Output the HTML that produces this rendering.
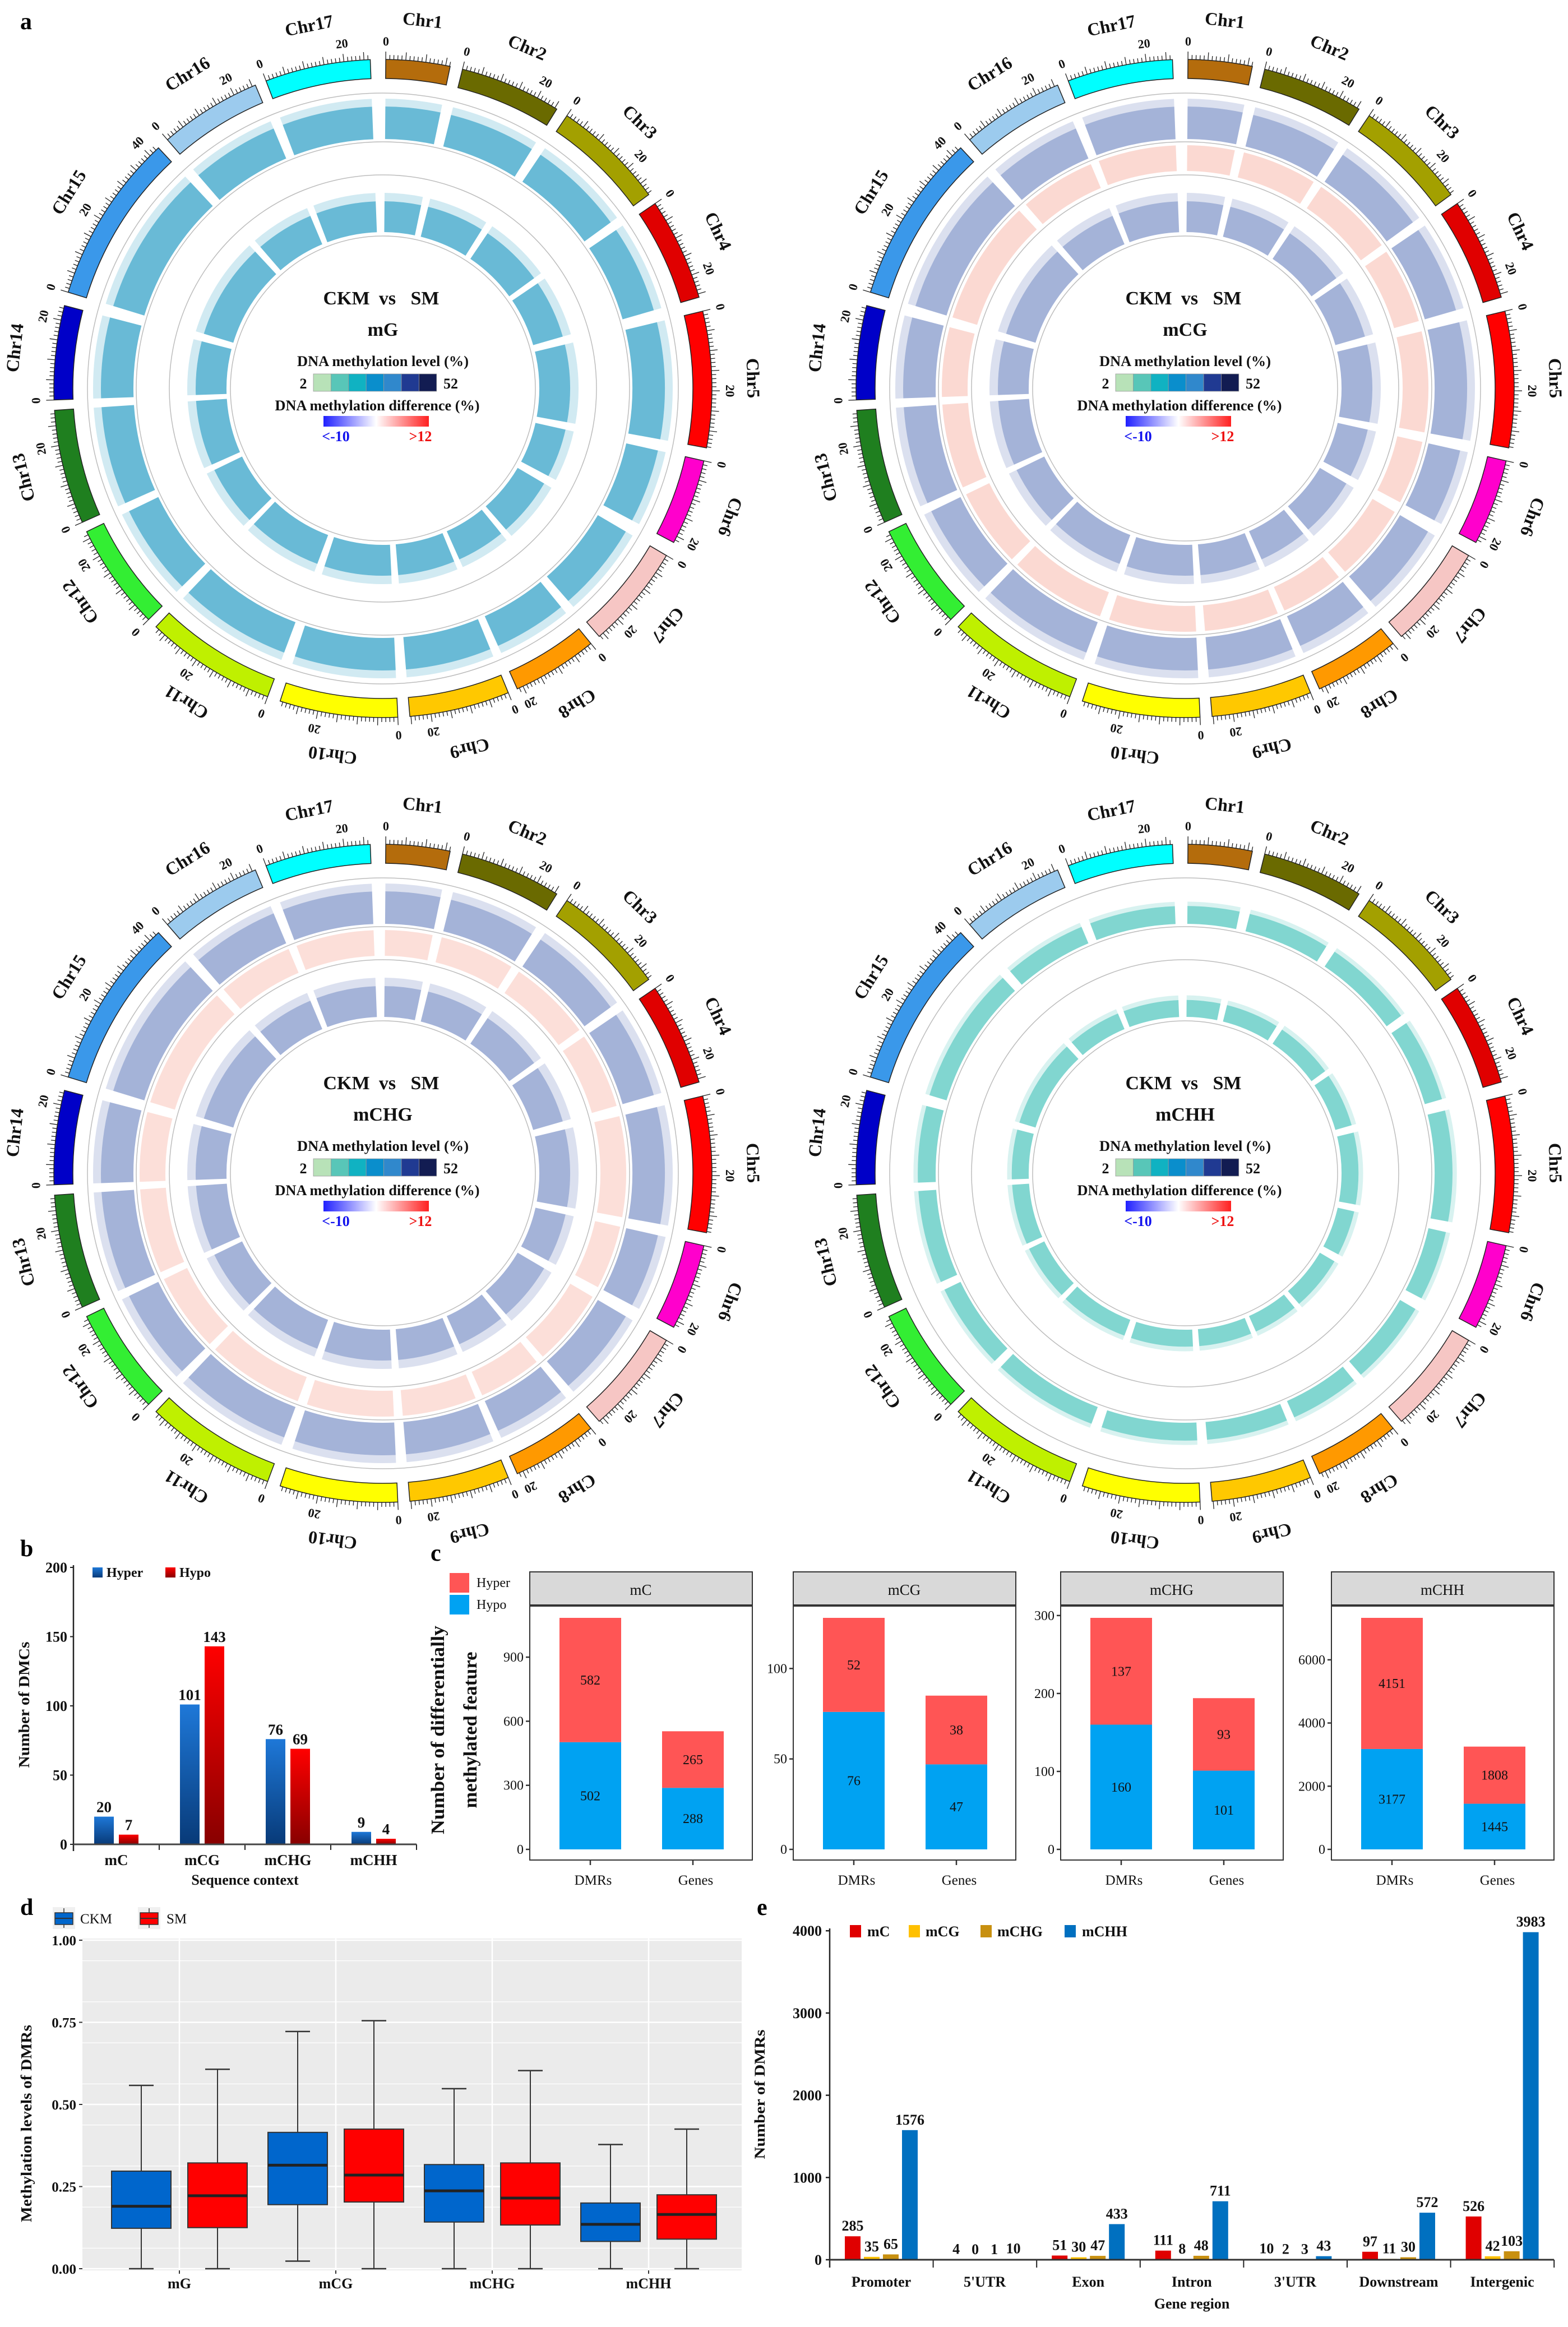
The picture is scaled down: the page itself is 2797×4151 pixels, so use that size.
<!DOCTYPE html>
<html><head><meta charset="utf-8"><title>DNA methylation figure</title>
<style>
html,body{margin:0;padding:0;background:#fff;}
svg{display:block;}
text{font-family:"Liberation Serif","DejaVu Serif",serif;}
</style></head>
<body>
<svg id="fig" xmlns="http://www.w3.org/2000/svg" width="2797" height="4151" viewBox="0 0 2797 4151">
<defs>
<linearGradient id="gBlue" x1="0" y1="0" x2="0" y2="1"><stop offset="0" stop-color="#1e78d8"/><stop offset="1" stop-color="#083a78"/></linearGradient>
<linearGradient id="gRed" x1="0" y1="0" x2="0" y2="1"><stop offset="0" stop-color="#ff0000"/><stop offset="1" stop-color="#880000"/></linearGradient>
<linearGradient id="gDiff" x1="0" y1="0" x2="1" y2="0"><stop offset="0" stop-color="#2020ff"/><stop offset="0.5" stop-color="#ffffff"/><stop offset="1" stop-color="#ff2020"/></linearGradient>
</defs>
<text x="36" y="52" font-size="42" font-weight="bold">a</text>
<text x="36" y="2776" font-size="42" font-weight="bold">b</text>
<text x="768" y="2784" font-size="42" font-weight="bold">c</text>
<text x="36" y="3416" font-size="42" font-weight="bold">d</text>
<text x="1350" y="3416" font-size="42" font-weight="bold">e</text>
</svg>
<script>
const NS='http://www.w3.org/2000/svg';
const svg=document.getElementById('fig');
function mk(tag,attrs,name,parent){
  const el=document.createElementNS(NS,tag);
  for(const k in attrs) el.setAttribute(k,attrs[k]);
  
  
  (parent||svg).appendChild(el);
  return el;
}
function txt(x,y,s,size,name,opts){
  opts=opts||{};
  const el=mk('text',{x:x,y:y,'font-size':size,'font-weight':opts.w||'bold','text-anchor':opts.a||'middle',fill:opts.fill||'#111'},name,opts.parent);
  if(opts.rot!==undefined) el.setAttribute('transform','rotate('+opts.rot+' '+(opts.rx!==undefined?opts.rx:x)+' '+(opts.ry!==undefined?opts.ry:y)+')');
  if(opts.len) {el.setAttribute('textLength',opts.len);el.setAttribute('lengthAdjust','spacingAndGlyphs');}
  el.textContent=s;
  return el;
}

/* ================= Panel a : circos ================= */
const chrNames=['Chr1','Chr2','Chr3','Chr4','Chr5','Chr6','Chr7','Chr8','Chr9','Chr10','Chr11','Chr12','Chr13','Chr14','Chr15','Chr16','Chr17'];
const chrStart=[0.5,14,34,55.8,76.4,102.7,120.5,140.8,157.6,177.4,200.5,225.4,246,268,287,319.1,339.2];
const chrEnd=[11.8,31.9,53.9,73.9,100.4,117.9,138.9,155.9,175.3,198.2,223.6,244.2,266.2,284.6,317,337.2,357.8];
const chrColors=['#b46c0c','#6a6a00','#a3a000','#e00000','#ff0000','#ff00cc','#f6c6c4','#ff9900','#ffc800','#ffff00','#bff000','#33ee33','#1f7f1f','#0000c8','#3a98ea','#9ccbee','#00ffff'];
const contexts=['mG','mCG','mCHG','mCHH'];
const centersX=[683,2114,683,2114];
const centersY=[693,693,2093,2093];
const trackColor=['#2f9fc6','#5a74b8','#5a74b8','#4cc4bc'];
const trackOpacity=[0.72,0.55,0.55,0.7];
const diffColor=['#ffffff','#f59b8a','#f59b8a','#ffffff'];
const diffOpacity=[0,0.38,0.32,0];
const DEG=0.7;
function pt(cx,cy,r,a){const t=a*Math.PI/180;return [cx+r*Math.sin(t),cy-r*Math.cos(t)];}
function sector(cx,cy,r0,r1,a0,a1){
  const large=(a1-a0)>180?1:0;
  const p1=pt(cx,cy,r1,a0),p2=pt(cx,cy,r1,a1),p3=pt(cx,cy,r0,a1),p4=pt(cx,cy,r0,a0);
  return 'M'+p1[0]+','+p1[1]+' A'+r1+','+r1+' 0 '+large+' 1 '+p2[0]+','+p2[1]+' L'+p3[0]+','+p3[1]+' A'+r0+','+r0+' 0 '+large+' 0 '+p4[0]+','+p4[1]+' Z';
}
for(let p=0;p<4;p++){
  const cx=centersX[p],cy=centersY[p];
  const g=mk('g',{},'circos-'+contexts[p]);
  [527,440,381,272].forEach(r=>{
    mk('circle',{cx:cx,cy:cy,r:r,fill:'none',stroke:'#bdbdbd','stroke-width':1.5},'track-guide-circle',g);
  });
  for(let i=0;i<chrNames.length;i++){
    const a0=chrStart[i],a1=chrEnd[i];
    const len=(a1-a0)/DEG;
    mk('path',{d:sector(cx,cy,553,587,a0,a1),fill:chrColors[i],stroke:'#222','stroke-width':1.5},'ideogram-'+chrNames[i],g);
    let d='';
    for(let mb=0;mb<=len;mb++){
      const a=a0+mb*DEG;const L=(mb%5===0)?14:8;
      const q1=pt(cx,cy,587,a),q2=pt(cx,cy,587+L,a);
      d+='M'+q1[0].toFixed(1)+','+q1[1].toFixed(1)+'L'+q2[0].toFixed(1)+','+q2[1].toFixed(1);
    }
    mk('path',{d:d,stroke:'#222','stroke-width':1.3,fill:'none'},'ticks-'+chrNames[i],g);
    for(let mb=0;mb<=len;mb+=20){
      txt(cx,cy-612,String(mb),22,'tick-label-'+chrNames[i],{parent:g,rot:a0+mb*DEG,rx:cx,ry:cy});
    }
    txt(cx,cy-650,chrNames[i],32,'label-'+chrNames[i],{parent:g,rot:(a0+a1)/2,rx:cx,ry:cy});
    const h1=(p===3)?0.55:1;
    mk('path',{d:sector(cx,cy,445,445+58*h1,a0,a1),fill:trackColor[p],opacity:trackOpacity[p]},'level-track-outer-'+chrNames[i],g);
    mk('path',{d:sector(cx,cy,445+58*h1,445+72*h1,a0,a1),fill:trackColor[p],opacity:0.22},'level-track-outer-tips-'+chrNames[i],g);
    mk('path',{d:sector(cx,cy,279,279+55*h1,a0,a1),fill:trackColor[p],opacity:trackOpacity[p]},'level-track-inner-'+chrNames[i],g);
    mk('path',{d:sector(cx,cy,279+55*h1,279+70*h1,a0,a1),fill:trackColor[p],opacity:0.22},'level-track-inner-tips-'+chrNames[i],g);
    if(diffOpacity[p]>0){
      mk('path',{d:sector(cx,cy,388,434,a0,a1),fill:diffColor[p],opacity:diffOpacity[p]},'difference-track-'+chrNames[i],g);
    }
  }
  txt(cx-65,cy-150,'CKM',34,'comparison-ckm',{parent:g});
  txt(cx+8,cy-150,'vs',34,'comparison-vs',{parent:g});
  txt(cx+75,cy-150,'SM',34,'comparison-sm',{parent:g});
  txt(cx,cy-94,contexts[p],34,'context-title',{parent:g});
  txt(cx,cy-40,'DNA methylation level (%)',26,'level-legend-title',{parent:g,len:306});
  const lvl=['#b8e2b8','#58c6b8','#10b2c2','#0a8ecc','#3088cc','#203a92','#121c52'];
  for(let k=0;k<7;k++) mk('rect',{x:cx-124+k*31.4,y:cy-26,width:31.4,height:31,fill:lvl[k],stroke:'#999','stroke-width':0.8},'level-legend-swatch',g);
  txt(cx-142,cy,'2',26,'level-legend-min',{parent:g});
  txt(cx+121,cy,'52',26,'level-legend-max',{parent:g});
  txt(cx-10,cy+39,'DNA methylation difference (%)',26,'difference-legend-title',{parent:g,len:365});
  mk('rect',{x:cx-106,y:cy+49,width:188,height:19,fill:'url(#gDiff)'},'difference-legend-bar',g);
  txt(cx-84,cy+94,'<-10',26,'difference-legend-min',{parent:g,fill:'#1010ee'});
  txt(cx+67,cy+94,'>12',26,'difference-legend-max',{parent:g,fill:'#ee1010'});
}

/* ================= Panel b ================= */
const bCats=['mC','mCG','mCHG','mCHH'];
const bHyper=[20,101,76,9];
const bHypo=[7,143,69,4];
const bTicks=[0,50,100,150,200];
(function(){
  const g=mk('g',{},'panel-b-chart');
  const yB=v=>3290-v*2.47;
  const cx0=i=>131+i*153;
  for(let i=0;i<bCats.length;i++){
    const x0=cx0(i);
    mk('rect',{x:x0+37,y:yB(bHyper[i]),width:35,height:bHyper[i]*2.47,fill:'url(#gBlue)'},'bar-hyper-'+bCats[i],g);
    mk('rect',{x:x0+81,y:yB(bHypo[i]),width:35,height:bHypo[i]*2.47,fill:'url(#gRed)'},'bar-hypo-'+bCats[i],g);
    txt(x0+54.5,yB(bHyper[i])-8,String(bHyper[i]),27,'value-hyper-'+bCats[i],{parent:g});
    txt(x0+98.5,yB(bHypo[i])-8,String(bHypo[i]),27,'value-hypo-'+bCats[i],{parent:g});
    txt(x0+76.5,3327,bCats[i],27,'x-tick-'+bCats[i],{parent:g});
    mk('line',{x1:x0+153,y1:3290,x2:x0+153,y2:3300,stroke:'#222','stroke-width':2},'x-tick-mark',g);
  }
  mk('line',{x1:131,y1:2792,x2:131,y2:3302,stroke:'#222','stroke-width':2.5},'y-axis',g);
  mk('line',{x1:131,y1:3290,x2:743,y2:3290,stroke:'#444','stroke-width':3},'x-axis',g);
  bTicks.forEach(v=>{
    mk('line',{x1:125,y1:yB(v),x2:131,y2:yB(v),stroke:'#222','stroke-width':2},'y-tick-mark',g);
    txt(120,yB(v)+9,String(v),26,'y-tick-label',{parent:g,a:'end'});
  });
  txt(437,3362,'Sequence context',26,'x-axis-title',{parent:g});
  txt(52,3041,'Number of DMCs',27,'y-axis-title',{parent:g,rot:-90,len:225});
  mk('rect',{x:165,y:2796,width:18,height:18,fill:'url(#gBlue)'},'legend-hyper-swatch',g);
  txt(190,2813,'Hyper',24,'legend-hyper-label',{parent:g,a:'start'});
  mk('rect',{x:295,y:2796,width:18,height:18,fill:'url(#gRed)'},'legend-hypo-swatch',g);
  txt(320,2813,'Hypo',24,'legend-hypo-label',{parent:g,a:'start'});
})();

/* ================= Panel c ================= */
const cFacets=['mC','mCG','mCHG','mCHH'];
const cGroups=['DMRs','Genes'];
const cHypo=[[502,288],[76,47],[160,101],[3177,1445]];
const cHyper=[[582,265],[52,38],[137,93],[4151,1808]];
const cTicks=[[0,300,600,900],[0,50,100],[0,100,200,300],[0,2000,4000,6000]];
(function(){
  const g=mk('g',{},'panel-c-chart');
  const lefts=[945,1415,1892,2375];
  for(let f=0;f<4;f++){
    const L=lefts[f];
    let mx=0;for(let k=0;k<2;k++) mx=Math.max(mx,cHypo[f][k]+cHyper[f][k]);
    const s=413/mx;const y=v=>3299-v*s;
    mk('rect',{x:L,y:2804,width:397,height:60,fill:'#d9d9d9',stroke:'#333','stroke-width':2},'facet-strip-'+cFacets[f],g);
    txt(L+198,2845,cFacets[f],27,'facet-title-'+cFacets[f],{parent:g,w:'normal'});
    mk('rect',{x:L,y:2864,width:397,height:454,fill:'#fff',stroke:'#333','stroke-width':2},'facet-panel-'+cFacets[f],g);
    mk('line',{x1:L,y1:2864,x2:L+397,y2:2864,stroke:'#333','stroke-width':4},'strip-border',g);
    for(let k=0;k<2;k++){
      const bx=L+(k===0?53:236);
      mk('rect',{x:bx,y:y(cHypo[f][k]),width:110,height:cHypo[f][k]*s,fill:'#00a2f2'},'bar-hypo-'+cFacets[f]+'-'+cGroups[k],g);
      mk('rect',{x:bx,y:y(cHypo[f][k]+cHyper[f][k]),width:110,height:cHyper[f][k]*s,fill:'#ff5555'},'bar-hyper-'+cFacets[f]+'-'+cGroups[k],g);
      txt(bx+55,y(cHypo[f][k]/2)+8,String(cHypo[f][k]),24,'value-hypo',{parent:g,w:'normal'});
      txt(bx+55,y(cHypo[f][k]+cHyper[f][k]/2)+8,String(cHyper[f][k]),24,'value-hyper',{parent:g,w:'normal'});
      mk('line',{x1:bx+55,y1:3318,x2:bx+55,y2:3327,stroke:'#333','stroke-width':2.5},'x-tick-mark',g);
      txt(bx+60,3362,cGroups[k],25,'x-tick-'+cGroups[k],{parent:g,w:'normal'});
    }
    cTicks[f].forEach(v=>{
      mk('line',{x1:L-7,y1:y(v),x2:L,y2:y(v),stroke:'#333','stroke-width':2.5},'y-tick-mark',g);
      txt(L-11,y(v)+8,String(v),24,'y-tick-label',{parent:g,a:'end',w:'normal'});
    });
  }
  txt(792,3086,'Number of differentially',34,'y-axis-title-line1',{parent:g,rot:-90,len:372});
  txt(850,3086,'methylated feature',34,'y-axis-title-line2',{parent:g,rot:-90,len:279});
  mk('rect',{x:802,y:2806,width:35,height:35,fill:'#ff5555'},'legend-hyper-swatch',g);
  txt(850,2831,'Hyper',24,'legend-hyper-label',{parent:g,a:'start',w:'normal'});
  mk('rect',{x:802,y:2845,width:35,height:35,fill:'#00a2f2'},'legend-hypo-swatch',g);
  txt(850,2870,'Hypo',24,'legend-hypo-label',{parent:g,a:'start',w:'normal'});
})();

/* ================= Panel d ================= */
const dCats=['mG','mCG','mCHG','mCHH'];
const ckmLow=[0,0.023,0,0];
const ckmQ1=[0.123,0.195,0.142,0.083];
const ckmMed=[0.19,0.315,0.237,0.135];
const ckmQ3=[0.297,0.415,0.317,0.200];
const ckmHigh=[0.558,0.722,0.548,0.378];
const smLow=[0,0,0,0];
const smQ1=[0.125,0.203,0.133,0.09];
const smMed=[0.222,0.285,0.215,0.165];
const smQ3=[0.322,0.425,0.322,0.225];
const smHigh=[0.607,0.755,0.603,0.425];
const dTicks=['0.00','0.25','0.50','0.75','1.00'];
(function(){
  const g=mk('g',{},'panel-d-chart');
  const y=v=>4047-v*586;
  mk('rect',{x:147,y:3458,width:1176,height:592,fill:'#ebebeb'},'plot-background',g);
  for(let k=0;k<8;k++){ const v=k/8+1/16; if(v<1) mk('line',{x1:147,y1:y(v),x2:1323,y2:y(v),stroke:'#fff','stroke-width':1.2},'minor-gridline',g);}
  dTicks.forEach(t=>{
    const v=parseFloat(t);
    mk('line',{x1:147,y1:y(v),x2:1323,y2:y(v),stroke:'#fff','stroke-width':2.5},'major-gridline',g);
    mk('line',{x1:141,y1:y(v),x2:147,y2:y(v),stroke:'#333','stroke-width':2},'y-tick-mark',g);
    txt(136,y(v)+9,t,25,'y-tick-label',{parent:g,a:'end'});
  });
  for(let i=0;i<4;i++){
    const cx=320+i*279;
    mk('line',{x1:cx,y1:3458,x2:cx,y2:4050,stroke:'#fff','stroke-width':2.5},'vertical-gridline',g);
    mk('line',{x1:cx,y1:4050,x2:cx,y2:4056,stroke:'#333','stroke-width':2},'x-tick-mark',g);
    txt(cx,4082,dCats[i],26,'x-tick-'+dCats[i],{parent:g});
    const sets=[[cx-68,ckmLow,ckmQ1,ckmMed,ckmQ3,ckmHigh,'#0066cc','ckm'],[cx+68,smLow,smQ1,smMed,smQ3,smHigh,'#ff0000','sm']];
    sets.forEach(s=>{
      const bx=s[0];
      mk('line',{x1:bx,y1:y(s[5][i]),x2:bx,y2:y(s[4][i]),stroke:'#333','stroke-width':2},'upper-whisker-'+s[7],g);
      mk('line',{x1:bx,y1:y(s[2][i]),x2:bx,y2:y(s[1][i]),stroke:'#333','stroke-width':2},'lower-whisker-'+s[7],g);
      mk('line',{x1:bx-22,y1:y(s[5][i]),x2:bx+22,y2:y(s[5][i]),stroke:'#333','stroke-width':2.5},'whisker-cap',g);
      mk('line',{x1:bx-22,y1:y(s[1][i]),x2:bx+22,y2:y(s[1][i]),stroke:'#333','stroke-width':2.5},'whisker-cap',g);
      mk('rect',{x:bx-53,y:y(s[4][i]),width:106,height:y(s[2][i])-y(s[4][i]),fill:s[6],stroke:'#333','stroke-width':2},'box-'+s[7]+'-'+dCats[i],g);
      mk('line',{x1:bx-53,y1:y(s[3][i]),x2:bx+53,y2:y(s[3][i]),stroke:'#222','stroke-width':5},'median-'+s[7],g);
    });
  }
  txt(56,3788,'Methylation levels of DMRs',27,'y-axis-title',{parent:g,rot:-90,len:352});
  mk('rect',{x:94,y:3402,width:40,height:39,fill:'#f0f0f0'},'legend-ckm-key-bg',g);
  mk('line',{x1:114,y1:3404,x2:114,y2:3439,stroke:'#333','stroke-width':1.5},'legend-ckm-whisker',g);
  mk('rect',{x:98,y:3412,width:32,height:21,fill:'#0066cc',stroke:'#333','stroke-width':1.5},'legend-ckm-swatch',g);
  mk('line',{x1:98,y1:3422,x2:130,y2:3422,stroke:'#333','stroke-width':2},'legend-ckm-median',g);
  txt(143,3431,'CKM',25,'legend-ckm-label',{parent:g,a:'start',w:'normal'});
  mk('rect',{x:246,y:3402,width:40,height:39,fill:'#f0f0f0'},'legend-sm-key-bg',g);
  mk('line',{x1:266,y1:3404,x2:266,y2:3439,stroke:'#333','stroke-width':1.5},'legend-sm-whisker',g);
  mk('rect',{x:250,y:3412,width:32,height:21,fill:'#ff0000',stroke:'#333','stroke-width':1.5},'legend-sm-swatch',g);
  mk('line',{x1:250,y1:3422,x2:282,y2:3422,stroke:'#333','stroke-width':2},'legend-sm-median',g);
  txt(297,3431,'SM',25,'legend-sm-label',{parent:g,a:'start',w:'normal'});
})();

/* ================= Panel e ================= */
const eCats=['Promoter',"5'UTR",'Exon','Intron',"3'UTR",'Downstream','Intergenic'];
const eMC=[285,4,51,111,10,97,526];
const eMCG=[35,0,30,8,2,11,42];
const eMCHG=[65,1,47,48,3,30,103];
const eMCHH=[1576,10,433,711,43,572,3983];
const eTicks=[0,1000,2000,3000,4000];
(function(){
  const g=mk('g',{},'panel-e-chart');
  const y=v=>4031-v*0.1467;
  const series=[eMC,eMCG,eMCHG,eMCHH];
  const sNames=['mC','mCG','mCHG','mCHH'];
  const cols=['#e00000','#ffc000','#c89010','#0070c0'];
  for(let i=0;i<eCats.length;i++){
    const x0=1480+i*184.6;
    for(let j=0;j<4;j++){
      const v=series[j][i];
      const bx=x0+27+j*34;
      mk('rect',{x:bx,y:y(v),width:28,height:v*0.1467,fill:cols[j]},'bar-'+sNames[j]+'-'+eCats[i],g);
      txt(bx+14,y(v)-10,String(v),26,'value-'+sNames[j],{parent:g});
    }
    mk('line',{x1:x0+184.6,y1:4031,x2:x0+184.6,y2:4045,stroke:'#222','stroke-width':2},'x-tick-mark',g);
    txt(x0+92,4079,eCats[i],26,'x-tick-'+eCats[i],{parent:g});
  }
  mk('line',{x1:1480,y1:3440,x2:1480,y2:4045,stroke:'#222','stroke-width':2.5},'y-axis',g);
  mk('line',{x1:1480,y1:4031,x2:2772,y2:4031,stroke:'#333','stroke-width':3},'x-axis',g);
  eTicks.forEach(v=>{
    mk('line',{x1:1473,y1:y(v),x2:1480,y2:y(v),stroke:'#222','stroke-width':2.5},'y-tick-mark',g);
    txt(1466,y(v)+9,String(v),26,'y-tick-label',{parent:g,a:'end'});
  });
  txt(2126,4118,'Gene region',26,'x-axis-title',{parent:g});
  txt(1364,3736,'Number of DMRs',26,'y-axis-title',{parent:g,rot:-90,len:231});
  const lx=[1516,1621,1749,1899];
  const tx=[1547,1651,1779,1930];
  for(let j=0;j<4;j++){
    mk('rect',{x:lx[j],y:3434,width:20,height:22,fill:cols[j]},'legend-'+sNames[j]+'-swatch',g);
    txt(tx[j],3454,sNames[j],26,'legend-'+sNames[j]+'-label',{parent:g,a:'start'});
  }
})();
</script>
</body></html>
